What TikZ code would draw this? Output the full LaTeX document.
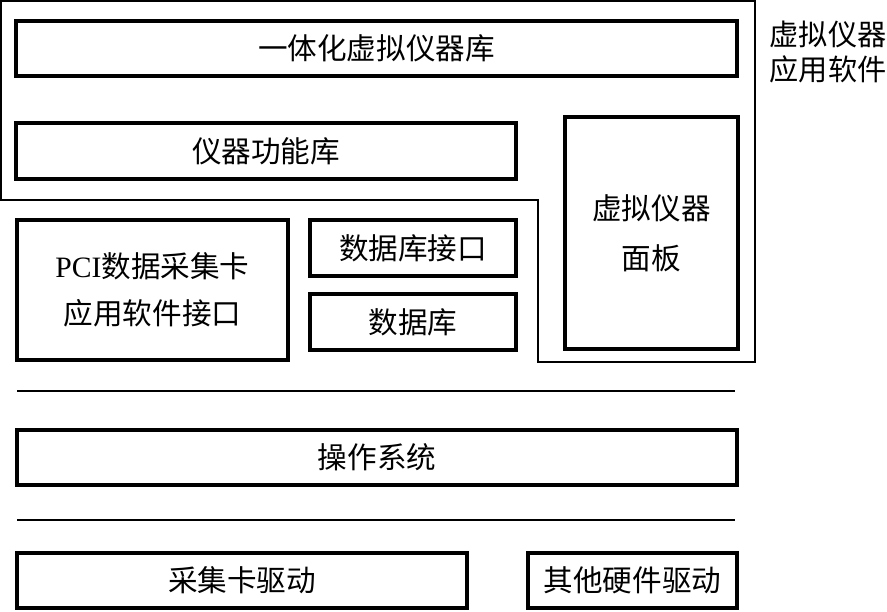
\documentclass[tikz,border=0pt]{standalone}
\usepackage{fontspec}
\setmainfont{Liberation Serif}
\newfontfamily\cjk{Noto Sans CJK SC}
\begin{document}
\begin{tikzpicture}[x=0.5pt,y=-0.5pt,
  every node/.style={font=\cjk\fontsize{14.8}{17}\selectfont},
  blk/.style={draw,line width=2pt,inner sep=0pt,align=center}]
\useasboundingbox (0,0) rectangle (887,611);
% Application software area
\draw[line width=0.75pt] (1,1)--(755,1)--(755,362)--(538,362)--(538,200)--(1,200)--cycle;
\node[align=center,font=\cjk\fontsize{14.6}{17.5}\selectfont] (app) at (828,52) {虚拟仪器\\应用软件};
\node[blk,minimum width=360.5pt,minimum height=27.5pt] (lib) at (376.5,48.5) {一体化虚拟仪器库};
\node[blk,minimum width=250pt,minimum height=28pt] (func) at (266,151) {仪器功能库};
\node[blk,minimum width=86.5pt,minimum height=116pt,font=\cjk\fontsize{14.8}{25}\selectfont] (panel) at (651.5,233) {虚拟仪器\\面板};
% Interfaces
\node[blk,minimum width=135.5pt,minimum height=70pt,font=\cjk\fontsize{14.8}{23.5}\selectfont] (pci) at (152.5,290) {{\rmfamily PCI}数据采集卡\\应用软件接口};
\node[blk,minimum width=103pt,minimum height=28pt] (dbif) at (413,248) {数据库接口};
\node[blk,minimum width=103pt,minimum height=28pt] (db) at (413,322) {数据库};
% Operating system
\draw[line width=1pt] (17,391)--(735,391);
\node[blk,minimum width=360pt,minimum height=27.5pt] (os) at (377,457.5) {操作系统};
\draw[line width=1pt] (17,520)--(735,520);
% Drivers
\node[blk,minimum width=225pt,minimum height=27.5pt] (drv) at (242,580.5) {采集卡驱动};
\node[blk,minimum width=104.5pt,minimum height=27.5pt] (other) at (632.5,580.5) {其他硬件驱动};
\end{tikzpicture}
\end{document}
